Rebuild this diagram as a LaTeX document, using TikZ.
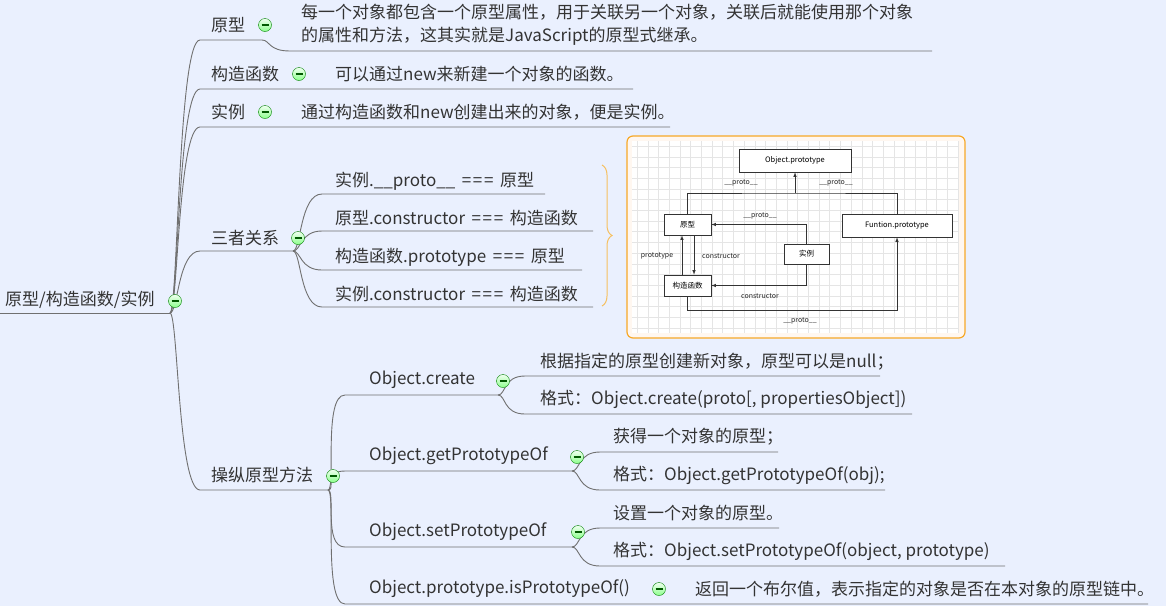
\documentclass[tikz,border=0pt]{standalone}
\usepackage{fontspec}
\setmainfont{Noto Sans CJK SC}
\usetikzlibrary{calc,positioning,arrows,decorations.pathreplacing}

\definecolor{bgblue}{RGB}{234,240,254}
\definecolor{ink}{RGB}{51,51,51}
\definecolor{linegray}{RGB}{112,112,112}
\definecolor{braceorange}{RGB}{246,192,96}
\definecolor{frameorange}{RGB}{247,168,40}

\newcommand{\eqq}{\,=\kern1.6pt=\kern1.6pt=\,}

\begin{document}
\begin{tikzpicture}[x=1pt, y=-1pt,
        topic/.style={anchor=west, inner sep=0pt, text=ink, font=\fontsize{17}{23}\selectfont},
        desc/.style={topic, align=left},
        branch/.style={draw=linegray, line width=0.9pt},
        link/.style={to path={.. controls ($(\tikztostart)+(8,0)$) and ($(\tikztotarget)+(-22,0)$) .. (\tikztotarget)}},
        fold/.style={circle, draw=green!50!black, top color=green!6!white, bottom color=green!45!white,
            minimum size=13pt, inner sep=0pt,
            path picture={\draw[green!35!black, line width=1.1pt]
                ([xshift=-3.5pt]path picture bounding box.center) -- ([xshift=3.5pt]path picture bounding box.center);}},
        dbox/.style={rectangle, draw=black!80, fill=white, line width=0.6pt, inner sep=0pt, font=\fontsize{7.5}{9}\selectfont},
        dlbl/.style={inner sep=0pt, text=black!85, font=\fontsize{7}{8}\selectfont},
        darrow/.style={->, >=latex, line width=0.6pt, draw=black!80},
        gridline/.style={draw=black!10, line width=0.3pt}
    ]

    % page
    \fill[bgblue] (0,0) rectangle (1166,606);
    \useasboundingbox (0,0) rectangle (1166,606);

    % root
    \node[topic] (root) at (5,300) {原型/构造函数/实例};
    \coordinate (root-s) at (0,313);
    \coordinate (root-e) at (170,313);
    \draw[branch] (root-s) -- (root-e);

    % 原型
    \node[topic] (yx) at (211,25) {原型};
    \node[desc] (yx-d) at (301,25) {每一个对象都包含一个原型属性，用于关联另一个对象，关联后就能使用那个对象\\的属性和方法，这其实就是JavaScript的原型式继承。};
    \coordinate (yx-s) at (200,40);
    \coordinate (yx-e) at (262,40);
    \coordinate (yxd-s) at (290,51);
    \coordinate (yxd-e) at (932,51);
    \draw[branch] (root-e) to[link] (yx-s) -- (yx-e) to[link] (yxd-s) -- (yxd-e);

    % 构造函数
    \node[topic] (gz) at (211,74) {构造函数};
    \node[topic] (gz-d) at (335,74) {可以通过new来新建一个对象的函数。};
    \coordinate (gz-s) at (200,89);
    \coordinate (gzd-e) at (633,89);
    \draw[branch] (root-e) to[link] (gz-s) -- (gzd-e);

    % 实例
    \node[topic] (sl) at (211,112) {实例};
    \node[topic] (sl-d) at (301,112) {通过构造函数和new创建出来的对象，便是实例。};
    \coordinate (sl-s) at (200,127);
    \coordinate (sld-e) at (670,127);
    \draw[branch] (root-e) to[link] (sl-s) -- (sld-e);

    % 三者关系
    \node[topic] (gx) at (211,238) {三者关系};
    \coordinate (gx-s) at (200,251);
    \coordinate (gx-e) at (293,251);
    \draw[branch] (root-e) to[link] (gx-s) -- (gx-e);
    \foreach \name/\ty/\ex/\txt in {gx1/181/545/{实例.\_\_proto\_\_ \eqq{} 原型},
                                    gx2/218/593/{原型.constructor \eqq{} 构造函数},
                                    gx3/257/582/{构造函数.prototype \eqq{} 原型},
                                    gx4/294/593/{实例.constructor \eqq{} 构造函数}} {
        \node[topic] (\name) at (335,\ty) {\txt};
        \coordinate (\name-s) at (322,\ty+13);
        \coordinate (\name-e) at (\ex,\ty+13);
        \draw[branch] (gx-e) to[link] (\name-s) -- (\name-e);
    }
    \draw[braceorange, line width=1pt, decorate, decoration={brace, amplitude=10pt}] (602,165) -- (602,306);

    % picture of the prototype chain
    \draw[frameorange, fill=orange!6!white, line width=1.2pt, rounded corners=6pt] (627,136) rectangle (965,338);
    \fill[white] (632,141) rectangle (959,333);
    \foreach \gx in {637,647.7,...,958} \draw[gridline] (\gx,141) -- (\gx,333);
    \foreach \gy in {146,156.7,...,333} \draw[gridline] (632,\gy) -- (959,\gy);

    \node[dbox, minimum width=112pt, minimum height=23pt] (objp) at (795,160.5) {Object.prototype};
    \node[dbox, minimum width=47pt, minimum height=21pt] (pyx) at (687.5,224.5) {原型};
    \node[dbox, minimum width=110pt, minimum height=23pt] (funp) at (897,225.5) {Funtion.prototype};
    \node[dbox, minimum width=45pt, minimum height=20pt] (psl) at (806.5,254) {实例};
    \node[dbox, minimum width=47pt, minimum height=21pt] (pgz) at (687.5,285.5) {构造函数};

    \coordinate (bus) at (795,193);
    \draw[darrow, -] (pyx.north) |- (bus) -| (funp.north);
    \draw[darrow] (bus) -- (objp.south);
    \draw[darrow] (psl.north) |- (pyx.east);
    \draw[darrow] (psl.south) |- (pgz.east);
    \draw[darrow] ([xshift=-5.5pt]pgz.north) -- ([xshift=-5.5pt]pyx.south);
    \draw[darrow] ([xshift=6.5pt]pyx.south) -- ([xshift=6.5pt]pgz.north);
    \draw[darrow] (pgz.south) -- ++(0,14) -| (funp.south);

    \node[dlbl] (l-p1) at (741,183) {\_\_proto\_\_};
    \node[dlbl] (l-p2) at (836,183) {\_\_proto\_\_};
    \node[dlbl] (l-p3) at (760,216) {\_\_proto\_\_};
    \node[dlbl] (l-c1) at (760,296) {constructor};
    \node[dlbl] (l-pt) at (657,256) {prototype};
    \node[dlbl] (l-c2) at (721,256) {constructor};
    \node[dlbl] (l-p4) at (800,321) {\_\_proto\_\_};

    % 操纵原型方法
    \node[topic] (cz) at (211,475) {操纵原型方法};
    \coordinate (cz-s) at (200,490);
    \coordinate (cz-e) at (328,490);
    \draw[branch] (root-e) to[link] (cz-s) -- (cz-e);

    \node[topic] (oc) at (369,380) {Object.create};
    \coordinate (oc-s) at (345,395);
    \coordinate (oc-e) at (498,395);
    \draw[branch] (cz-e) to[link] (oc-s) -- (oc-e);
    \node[topic] (oc1) at (540,362) {根据指定的原型创建新对象，原型可以是null；};
    \node[topic] (oc2) at (540,399) {格式：Object.create(proto[, propertiesObject])};
    \coordinate (oc1-s) at (525,376);
    \coordinate (oc1-e) at (880,376);
    \coordinate (oc2-s) at (525,414);
    \coordinate (oc2-e) at (912,414);
    \draw[branch] (oc-e) to[link] (oc1-s) -- (oc1-e);
    \draw[branch] (oc-e) to[link] (oc2-s) -- (oc2-e);

    \node[topic] (og) at (369,456) {Object.getPrototypeOf};
    \coordinate (og-s) at (345,471);
    \coordinate (og-e) at (572,471);
    \draw[branch] (cz-e) to[link] (og-s) -- (og-e);
    \node[topic] (og1) at (613,437) {获得一个对象的原型；};
    \node[topic] (og2) at (613,475) {格式：Object.getPrototypeOf(obj);};
    \coordinate (og1-s) at (600,452);
    \coordinate (og1-e) at (778,452);
    \coordinate (og2-s) at (600,490);
    \coordinate (og2-e) at (885,490);
    \draw[branch] (og-e) to[link] (og1-s) -- (og1-e);
    \draw[branch] (og-e) to[link] (og2-s) -- (og2-e);

    \node[topic] (os) at (369,532) {Object.setPrototypeOf};
    \coordinate (os-s) at (345,547);
    \coordinate (os-e) at (572,547);
    \draw[branch] (cz-e) to[link] (os-s) -- (os-e);
    \node[topic] (os1) at (613,513) {设置一个对象的原型。};
    \node[topic] (os2) at (613,551) {格式：Object.setPrototypeOf(object, prototype)};
    \coordinate (os1-s) at (600,528);
    \coordinate (os1-e) at (779,528);
    \coordinate (os2-s) at (600,566);
    \coordinate (os2-e) at (1005,566);
    \draw[branch] (os-e) to[link] (os1-s) -- (os1-e);
    \draw[branch] (os-e) to[link] (os2-s) -- (os2-e);

    \node[topic] (oi) at (369,589) {Object.prototype.isPrototypeOf()};
    \node[topic] (oi-d) at (695,589) {返回一个布尔值，表示指定的对象是否在本对象的原型链中。};
    \coordinate (oi-s) at (345,604);
    \coordinate (oi-e) at (1148,604);
    \draw[branch] (cz-e) to[link] (oi-s) -- (oi-e);

    % fold buttons
    \foreach \fx/\fy in {175/301, 265/25, 299/74, 265/112, 298/238, 333/476,
                         503/381, 577/457, 578/532, 659/589}
        \node[fold] at (\fx,\fy) {};

\end{tikzpicture}
\end{document}
